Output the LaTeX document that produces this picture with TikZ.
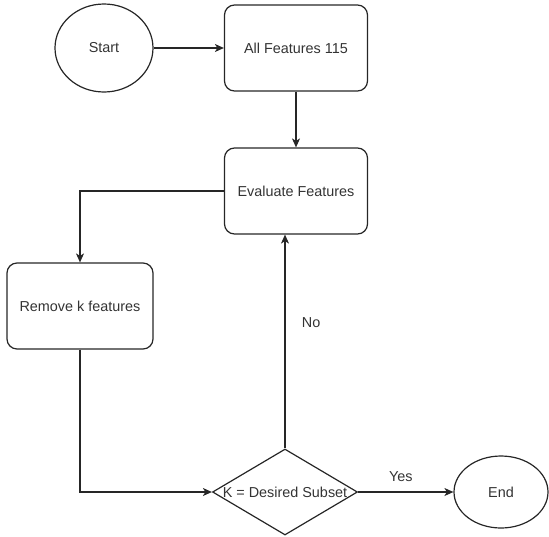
\documentclass[tikz,border=0pt]{standalone}
\usepackage{fontspec}
\setmainfont{Liberation Sans}
\usetikzlibrary{shapes.geometric,arrows.meta}
\begin{document}
\begin{tikzpicture}[x=1pt,y=-1pt,
  every node/.style={font=\fontsize{14.4}{16}\selectfont, text=black!80},
  flow/.style={line width=1.2pt, draw=black!85},
  arr/.style={flow, -{Stealth[length=9pt,width=8pt,inset=2.5pt]}},
  procbox/.style={draw=black!85, line width=1.2pt, rounded corners=10pt, inner sep=0pt},
  terminal/.style={draw=black!85, line width=1.2pt, ellipse, inner sep=0pt},
  decision/.style={draw=black!85, line width=1.2pt, diamond, inner sep=0pt}
]
\useasboundingbox (0,0) rectangle (549,536);

% nodes
\node[terminal, minimum width=98pt, minimum height=88pt] (start) at (104,48) {Start};
\node[procbox, minimum width=143pt, minimum height=86pt] (all) at (296,48) {All Features 115};
\node[procbox, minimum width=143pt, minimum height=86pt] (eval) at (296,191) {Evaluate Features};
\node[procbox, minimum width=146pt, minimum height=86pt] (remove) at (80,306) {Remove k features};
\node[decision, minimum width=145pt, minimum height=86pt] (check) at (285,492) {\makebox[0pt]{K = Desired Subset}};
\node[terminal, minimum width=94pt, minimum height=72pt] (end) at (501,492) {End};

% connectors
\draw[arr] (start) -- (all);
\draw[arr] (all) -- (eval);
\draw[arr] (eval.west) -| (remove.north);
\draw[arr] (remove.south) |- (check.west);
\draw[arr] (check.north) -- (check.north |- eval.south)
  node[pos=0.59, right=13pt] {No};
\draw[arr] (check.east) -- (end.west)
  node[midway, above=6pt, xshift=-5pt] {Yes};
\end{tikzpicture}
\end{document}
